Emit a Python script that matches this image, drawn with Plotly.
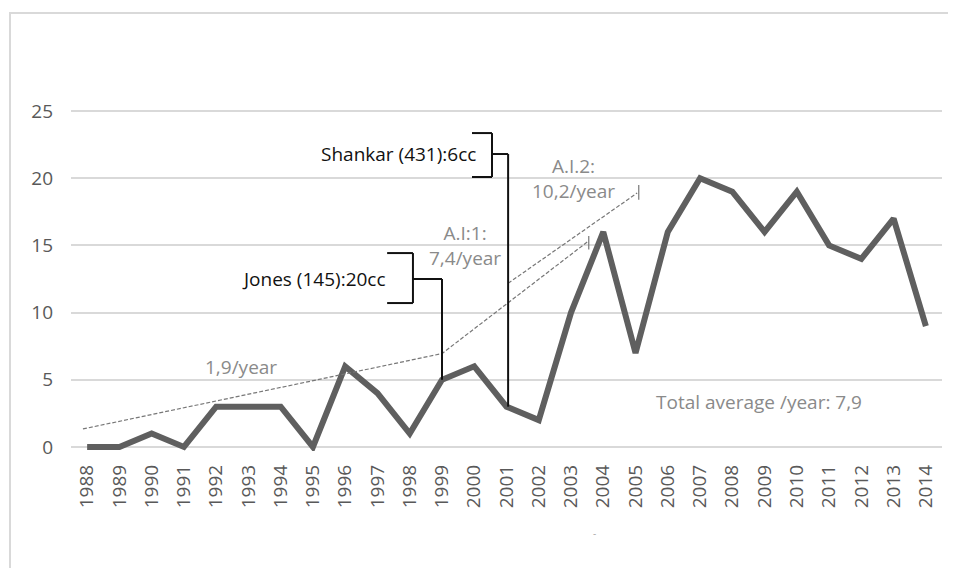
import plotly.graph_objects as go

# data
years = list(range(1988, 2015))
counts = [0, 0, 1, 0, 3, 3, 3, 0, 6, 4, 1, 5, 6, 3, 2, 10, 16, 7, 16, 20, 19, 16, 19, 15, 14, 17, 9]

# trend segments
trend1_x = [1987.87, 1999.0, 2003.5]
trend1_y = [1.34, 6.95, 15.25]
trend2_x = [2001.05, 2005.05]
trend2_y = [12.18, 18.9]

ytick_vals = [0, 5, 10, 15, 20, 25]

GRAY_TXT = "#8a8a8a"
TICK_TXT = "#595959"
FONT = "'Open Sans', 'Liberation Sans', sans-serif"

fig = go.Figure()

fig.add_trace(go.Scatter(
    x=years, y=counts, mode="lines",
    line=dict(color="#5f5f5f", width=6), hoverinfo="skip",
))
for tx, ty in [(trend1_x, trend1_y), (trend2_x, trend2_y)]:
    fig.add_trace(go.Scatter(
        x=tx, y=ty, mode="lines",
        line=dict(color="#777777", width=1.2, dash="4px,2px"), hoverinfo="skip",
    ))

shapes = []
black = dict(color="#111111", width=2)

# end ticks of trend lines
shapes.append(dict(type="line", x0=trend1_x[-1] + 0.05, x1=trend1_x[-1] + 0.05, y0=14.7, y1=15.7, line=dict(color="#777777", width=1.2)))
shapes.append(dict(type="line", x0=trend2_x[-1] + 0.05, x1=trend2_x[-1] + 0.05, y0=18.4, y1=19.5, line=dict(color="#777777", width=1.2)))

# Jones bracket
shapes += [
    dict(type="line", x0=1999, x1=1999, y0=5, y1=12.5, line=black),
    dict(type="line", x0=1999, x1=1998.1, y0=12.5, y1=12.5, line=black),
    dict(type="line", x0=1998.1, x1=1998.1, y0=10.71, y1=14.43, line=black),
    dict(type="line", x0=1997.3, x1=1998.1, y0=14.43, y1=14.43, line=black),
    dict(type="line", x0=1997.3, x1=1998.1, y0=10.71, y1=10.71, line=black),
]
# Shankar bracket
shapes += [
    dict(type="line", x0=2001.05, x1=2001.05, y0=3, y1=21.8, line=black),
    dict(type="line", x0=2001.05, x1=2000.55, y0=21.8, y1=21.8, line=black),
    dict(type="line", x0=2000.55, x1=2000.55, y0=20.09, y1=23.36, line=black),
    dict(type="line", x0=1999.93, x1=2000.55, y0=23.36, y1=23.36, line=black),
    dict(type="line", x0=1999.93, x1=2000.55, y0=20.09, y1=20.09, line=black),
]
# chart frame: thin filled strips (top and left), the rest runs off the picture
for x0, x1, y0, y1 in [(-0.0712, 1.2, 1.270, 1.276), (-0.0712, -0.0689, -0.35, 1.276)]:
    shapes.append(dict(type="rect", xref="paper", yref="paper", x0=x0, x1=x1, y0=y0, y1=y1,
                       fillcolor="#d9d9d9", line=dict(width=0), layer="below"))

ann = [
    dict(x=1997.33, y=12.5, text="Jones (145):20cc", xanchor="right", font=dict(color="#111111", size=19)),
    dict(x=2000.11, y=21.8, text="Shankar (431):6cc", xanchor="right", font=dict(color="#111111", size=19)),
    dict(x=1999.72, y=15.0, text="A.I:1:<br>7,4/year", font=dict(color=GRAY_TXT, size=19)),
    dict(x=2003.09, y=19.98, text="A.I.2:<br>10,2/year", font=dict(color=GRAY_TXT, size=19)),
    dict(x=1992.77, y=5.95, text="1,9/year", font=dict(color=GRAY_TXT, size=19)),
    dict(x=2008.82, y=3.35, text="Total average /year: 7,9", font=dict(color=GRAY_TXT, size=19)),
    dict(x=2003.74, y=-0.265, yref="paper", text="-", font=dict(color="#aaaaaa", size=10)),
]
for a in ann:
    a.setdefault("showarrow", False)
    a.setdefault("align", "center")

fig.update_layout(
    width=940, height=560,
    margin=dict(l=63, r=6, t=99, b=117),
    paper_bgcolor="white", plot_bgcolor="white",
    font=dict(family=FONT, color=TICK_TXT),
    showlegend=False,
    shapes=shapes, annotations=ann,
    xaxis=dict(
        range=[1987.5, 2014.5], tickmode="array", tickvals=years,
        ticktext=[str(y) for y in years], tickangle=-90,
        showgrid=False, zeroline=False, showline=False, ticks="",
        tickfont=dict(size=19, color=TICK_TXT), ticklabelstandoff=9,
    ),
    yaxis=dict(
        range=[-0.3, 25.3], tickmode="array", tickvals=ytick_vals,
        showgrid=True, gridcolor="#d9d9d9", gridwidth=1.5, zeroline=False,
        showline=False, ticks="",
        tickfont=dict(size=19, color=TICK_TXT), ticklabelstandoff=17,
    ),
)

fig.write_html("out.html", config=dict(displayModeBar=False))
